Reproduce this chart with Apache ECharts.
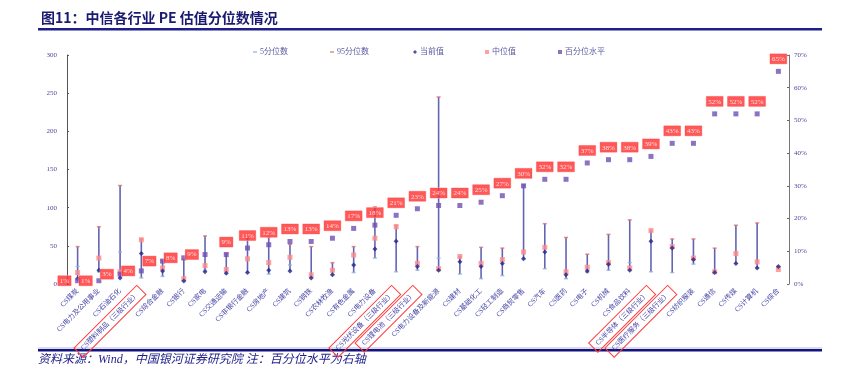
<!DOCTYPE html>
<html><head><meta charset="utf-8">
<script src="https://cdn.jsdelivr.net/npm/echarts@6/dist/echarts.min.js"></script>
<style>html,body{margin:0;padding:0;background:#fff}#c{width:842px;height:372px}</style>
</head><body><div id="c"></div>
<script>
const categories = ['CS煤炭','CS电力及公用事业','CS石油石化','CS塑料制品（三级行业）','CS综合金融','CS银行','CS家电','CS交通运输','CS非银行金融','CS房地产','CS建筑','CS钢铁','CS农林牧渔','CS有色金属','CS电力设备','CS光伏设备（三级行业）','CS锂电池（三级行业）','CS电力设备及新能源','CS建材','CS基础化工','CS轻工制造','CS商贸零售','CS汽车','CS医药','CS电子','CS机械','CS食品饮料','CS半导体（三级行业）','CS医疗服务（三级行业）','CS纺织服装','CS通信','CS传媒','CS计算机','CS综合'];
const boxed = [3,15,16,27,28];
const p95 = [49,75,129,59,31,32,63,40,60,61,52,49,28,49,101,77,49,245,36,48,47,130,79,61,39,65,84,70,59,59,47,77,80,23];
const p5  = [23,16,42,8,10,4,18,14,15,13,25,8,12,15,34,16,18,34,13,7,11,33,20,7,15,18,28,16,15,26,15,27,21,22];
const current = [7,18,8,40,17,4,16,14,15,18,17,8,12,25,46,56,23,18,29,23,27,33,42,12,17,26,18,56,47,32,15,27,21,23];
const median = [15,34,16,58,21,7,24,19,33,28,35,12,18,38,60,75,27,20,36,27,32,42,48,16,22,28,21,70,49,34,16,40,29,19];
const pct = [1,1,3,4,7,8,9,9,11,12,13,13,14,17,18,21,23,24,24,25,27,30,32,32,37,38,38,39,43,43,52,52,52,65];
const leftTicks = [0,50,100,150,200,250,300];
const rightTicks = [0,10,20,30,40,50,60,70];

const FONT = 'Liberation Serif, "Noto Sans CJK SC", serif';
const hl = categories.map((c,i)=>{const v=[p95[i],p5[i],current[i],median[i]];return [i,Math.min(...v),Math.max(...v)];});

const chart = echarts.init(document.getElementById('c'));
const legendItem = (name, left, icon, w, h) => ({
  data:[{name, icon}], left, top:43, itemWidth:w, itemHeight:h, itemGap:0,
  textStyle:{fontSize:8, color:'#5A5AA0', fontFamily:FONT, padding:[0,0,0,-2]}, selectedMode:false
});
chart.setOption({
  animation:false,
  title:{text:'图11：中信各行业 PE 估值分位数情况', left:36, top:6,
    textStyle:{fontSize:14, fontWeight:'bold', color:'#1A1A70', fontFamily:'"Noto Sans CJK SC", sans-serif'}},
  graphic:[
    {type:'rect', shape:{x:38,y:28,width:784,height:2.5}, style:{fill:'#1E1E8A'}},
    {type:'rect', shape:{x:38,y:347.5,width:784,height:1}, style:{fill:'#B8B8D8'}},
    {type:'rect', shape:{x:38,y:349,width:784,height:2.5}, style:{fill:'#14147E'}},
    {type:'text', left:38, top:354, style:{text:'资料来源：Wind，中国银河证券研究院 注：百分位水平为右轴', fontSize:12, fontStyle:'italic', fill:'#1E1E8A', fontFamily:FONT}}
  ],
  legend:[
    legendItem('5分位数',248,'rect',4,1.5),
    legendItem('95分位数',325,'rect',4,1.5),
    legendItem('当前值',408,'diamond',4,4),
    legendItem('中位值',480,'rect',4,4),
    legendItem('百分位水平',553,'rect',4,4)
  ],
  grid:{left:67, right:53, top:55, bottom:88},
  xAxis:{type:'category', boundaryGap:true,
    data:categories.map((c,i)=> boxed.includes(i)
      ? {value:c, textStyle:{borderColor:'#FF3B3B', borderWidth:1, padding:[3,5]}}
      : c),
    axisLine:{show:false}, axisTick:{show:false},
    axisLabel:{interval:0, rotate:45, fontSize:7, color:'#4646A6', fontFamily:FONT, margin:6}},
  yAxis:[
    {type:'value', min:0, max:300, interval:50, splitLine:{show:false},
     axisLine:{show:true, lineStyle:{color:'#555', width:1}},
     axisTick:{show:true, inside:true, length:2, lineStyle:{color:'#555'}},
     axisLabel:{fontSize:7, color:'#4A4A9A', fontFamily:FONT, margin:10,
       formatter:v=> leftTicks.includes(v)? String(v):''}},
    {type:'value', min:0, max:70, interval:10, splitLine:{show:false},
     axisLine:{show:true, lineStyle:{color:'#777', width:1}},
     axisTick:{show:true, inside:true, length:2, lineStyle:{color:'#666'}},
     axisLabel:{fontSize:7, color:'#4A4A9A', fontFamily:FONT, margin:5,
       formatter:v=> rightTicks.includes(v)? v+'%':''}}
  ],
  series:[
    {type:'custom', name:'hl', data:hl, z:1, silent:true,
     renderItem:(params, api)=>{
       const a=api.coord([api.value(0),api.value(1)]), b=api.coord([api.value(0),api.value(2)]);
       return {type:'line', shape:{x1:a[0],y1:a[1],x2:b[0],y2:b[1]}, style:{stroke:'#6464B4', lineWidth:1.6}};
     }},
    {type:'scatter', name:'5分位数', data:p5, symbol:'rect', symbolSize:[4,1.5], itemStyle:{color:'#8FB0E0'}, z:3},
    {type:'scatter', name:'95分位数', data:p95, symbol:'rect', symbolSize:[4,1.5], itemStyle:{color:'#E56B6B'}, z:3},
    {type:'scatter', name:'当前值', data:current, symbol:'diamond', symbolSize:5, itemStyle:{color:'#262688'}, z:5},
    {type:'scatter', name:'中位值', data:median, symbol:'rect', symbolSize:5, itemStyle:{color:'#FF8A8A'}, z:4},
    {type:'scatter', name:'百分位水平', yAxisIndex:1, symbol:'rect', symbolSize:5, itemStyle:{color:'#6E4FB4'}, z:6,
     data:pct.map((v,i)=>({value:v, label:{position: i<7 ? 'left':'top', distance: i<7 ? 4 : 5}})),
     label:{show:true, formatter:p=>p.value+'%', color:'#fff', backgroundColor:'#FF2E2E', fontSize:7,
       fontFamily:FONT, padding:[2,2,1,2], borderColor:'#FFB0B0', borderWidth:0.5}}
  ]
});
</script></body></html>
